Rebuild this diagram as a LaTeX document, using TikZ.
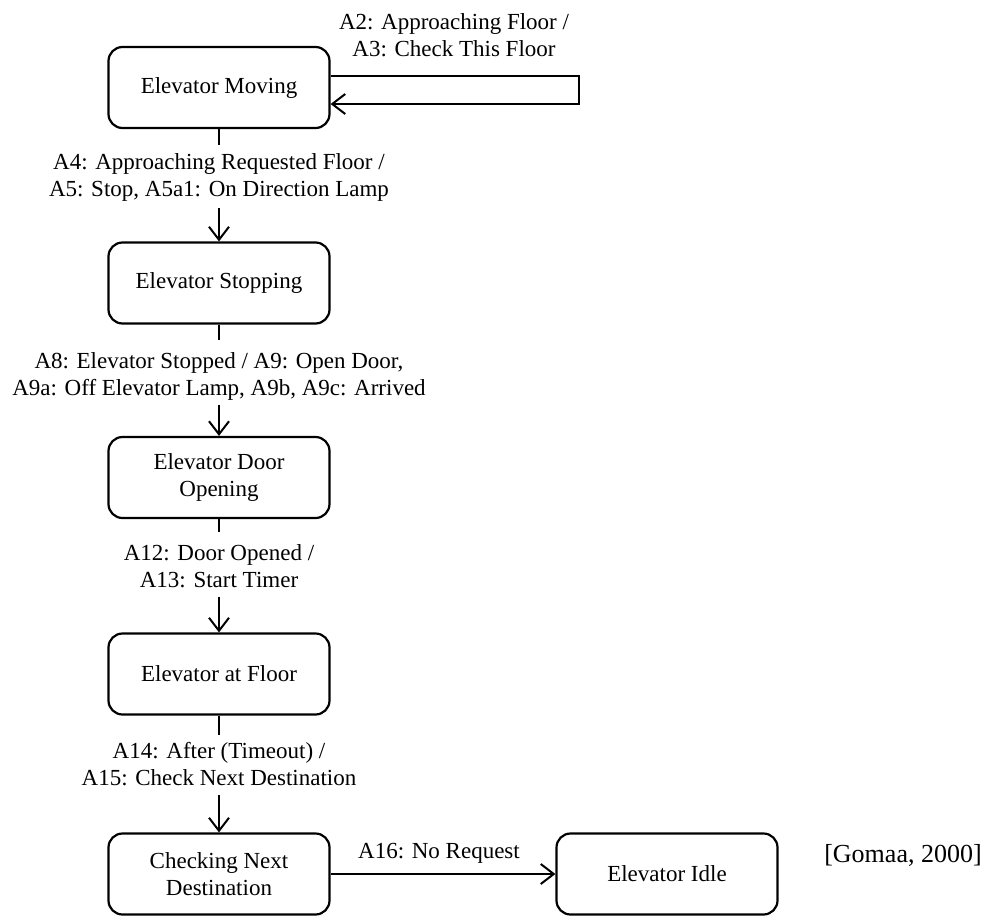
\documentclass[tikz,border=0pt]{standalone}
\usepackage{fontspec}
\setmainfont{Liberation Serif}
\usetikzlibrary{arrows.meta}
\begin{document}
\begin{tikzpicture}[x=1pt,y=-1pt,
  statebox/.style={draw, line width=2.2pt, rounded corners=14pt, minimum width=221pt,
    minimum height=81pt, inner sep=0pt, align=center, font=\fontsize{23}{27}\selectfont},
  lbl/.style={inner sep=0pt, align=center, font=\fontsize{23}{27}\selectfont},
  conn/.style={line width=2.2pt},
  arr/.style={line width=2.2pt, -{Straight Barb[length=13pt,width=20pt,line width=2pt]}}]
\useasboundingbox (0,0) rectangle (991,916);
% states
\node[statebox] (mv) at (219,87.5) {Elevator Moving};
\node[statebox] (st) at (219,283) {Elevator Stopping};
\node[statebox] (dr) at (219,477.5) {Elevator Door\\Opening};
\node[statebox] (fl) at (219,674) {Elevator at Floor};
\node[statebox] (ck) at (219,874) {Checking Next\\Destination};
\node[statebox] (id) at (667,874) {Elevator Idle};
% labels
\node[lbl] (l0) at (454,35) {A2: Approaching Floor /\\A3: Check This Floor};
\node[lbl] (l1) at (219,177.5) {A4: Approaching Requested Floor /\\A5: Stop, A5a1: On Direction Lamp};
\node[lbl] (l2) at (219,376.5) {A8: Elevator Stopped / A9: Open Door,\\A9a: Off Elevator Lamp, A9b, A9c: Arrived};
\node[lbl] (l3) at (219,566.5) {A12: Door Opened /\\A13: Start Timer};
\node[lbl] (l4) at (219,764.5) {A14: After (Timeout) /\\A15: Check Next Destination};
\node[lbl] (l5) at (439,853) {A16: No Request};
\node[lbl, font=\fontsize{26}{30}\selectfont] (src) at (903,855) {[Gomaa, 2000]};
% self loop
\coordinate (lpa) at (579,76);
\coordinate (lpb) at (579,104);
\draw[arr] (mv.east |- lpa) -- (lpa) -- (lpb) -- (mv.east |- lpb);
% vertical transitions
\coordinate (s1) at (219,145); \coordinate (t1) at (219,208);
\coordinate (s2) at (219,340); \coordinate (t2) at (219,405);
\coordinate (s3) at (219,532); \coordinate (t3) at (219,597);
\coordinate (s4) at (219,735); \coordinate (t4) at (219,795);
\draw[conn] (mv.south) -- (s1); \draw[arr] (t1) -- (st.north);
\draw[conn] (st.south) -- (s2); \draw[arr] (t2) -- (dr.north);
\draw[conn] (dr.south) -- (s3); \draw[arr] (t3) -- (fl.north);
\draw[conn] (fl.south) -- (s4); \draw[arr] (t4) -- (ck.north);
% horizontal transition
\draw[arr] (ck.east) -- (id.west);
\end{tikzpicture}
\end{document}
